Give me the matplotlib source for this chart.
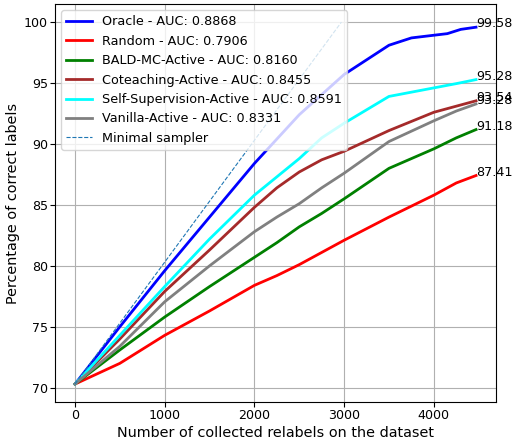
import numpy as np
import matplotlib
matplotlib.use("Agg")
from matplotlib import pyplot as plt

# relabel checkpoints and accuracy (%)
relabels = [0, 500, 1000, 1500, 2000, 2250, 2500, 2750, 3000, 3500, 4000, 4250, 4470]
random_ = [70.3, 72.0, 74.3, 76.3, 78.4, 79.2, 80.1, 81.1, 82.1, 84.0, 85.8, 86.8, 87.41]
bald = [70.3, 73.1, 75.8, 78.3, 80.7, 81.9, 83.2, 84.3, 85.5, 88.0, 89.6, 90.5, 91.18]
coteach = [70.3, 74.0, 77.9, 81.3, 84.8, 86.4, 87.7, 88.7, 89.4, 91.1, 92.6, 93.1, 93.54]
selfsup = [70.3, 74.3, 78.3, 82.2, 85.8, 87.3, 88.8, 90.5, 91.7, 93.9, 94.6, 94.95, 95.28]
vanilla = [70.3, 73.4, 77.05, 80.0, 82.8, 84.0, 85.1, 86.4, 87.6, 90.2, 91.9, 92.7, 93.28]

oracle_x = [0, 500, 1000, 1500, 2000, 2500, 3000, 3250, 3500, 3750, 4000, 4150, 4300, 4470]
oracle = [70.3, 75.0, 79.6, 84.0, 88.4, 92.4, 95.7, 96.9, 98.1, 98.7, 98.92, 99.05, 99.4, 99.58]

minimal_x = [0, 2970]
minimal_y = [70.3, 100.0]

series = [
    ("Oracle - AUC: 0.8868", oracle_x, oracle, "blue"),
    ("Random - AUC: 0.7906", relabels, random_, "red"),
    ("BALD-MC-Active - AUC: 0.8160", relabels, bald, "green"),
    ("Coteaching-Active - AUC: 0.8455", relabels, coteach, "brown"),
    ("Self-Supervision-Active - AUC: 0.8591", relabels, selfsup, "cyan"),
    ("Vanilla-Active - AUC: 0.8331", relabels, vanilla, "gray"),
]

fig = plt.figure(figsize=(5.13, 4.41), dpi=100)
ax = fig.add_axes([0.107, 0.088, 0.86, 0.903])

for label, xs, vals, col in series:
    ax.plot(xs, vals, color=col, lw=2, label=label)
    ax.text(xs[-1], vals[-1], "%.2f" % vals[-1], fontsize=9.2)

ax.plot(minimal_x, minimal_y, "--", color="tab:blue", lw=0.8, label="Minimal sampler")

ax.set_xlabel("Number of collected relabels on the dataset", fontsize=10.4, labelpad=3)
ax.set_ylabel("Percentage of correct labels", fontsize=10.4, labelpad=3)
ax.tick_params(labelsize=9.1, length=3.5, pad=1.5)
ax.grid(True)
ax.legend(loc="upper left", fontsize=9.2)

fig.savefig("out.png", dpi=100)
